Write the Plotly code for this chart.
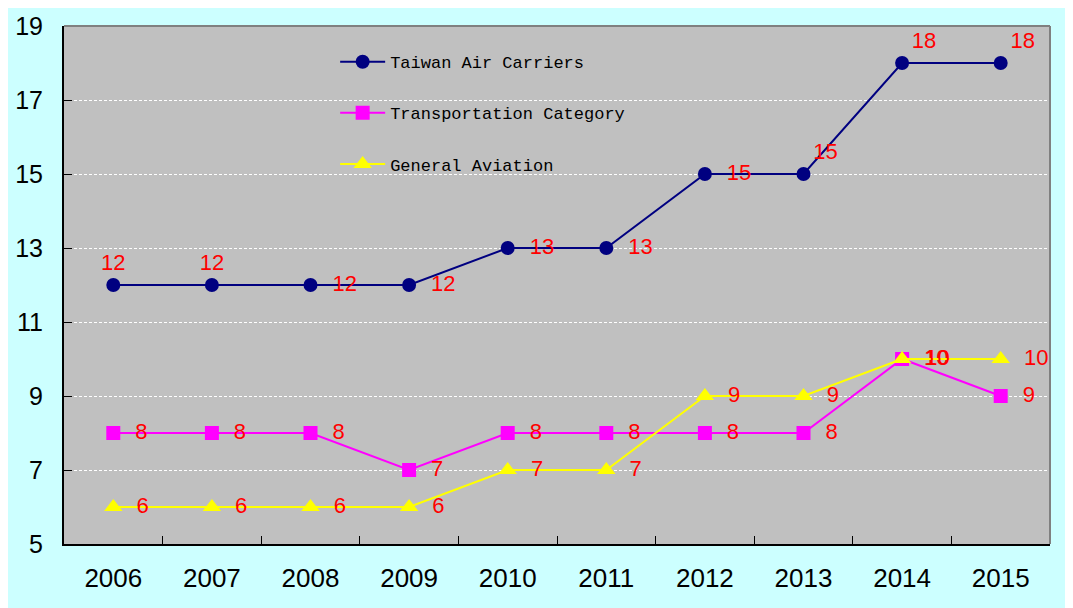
import plotly.graph_objects as go

years = ["2006", "2007", "2008", "2009", "2010", "2011", "2012", "2013", "2014", "2015"]
taiwan_air_carriers = [12, 12, 12, 12, 13, 13, 15, 15, 18, 18]
transportation_category = [8, 8, 8, 7, 8, 8, 8, 8, 10, 9]
general_aviation = [6, 6, 6, 6, 7, 7, 9, 9, 10, 10]

tac_pos = ["top center", "top center", "middle right", "middle right", "middle right",
           "middle right", "middle right", "top right", "top right", "top right"]


def label(v, pos):
    return ("  " + str(v)) if pos == "middle right" else str(v)


label_font = dict(family="Liberation Sans, Arial", size=22, color="#FF0000")

fig = go.Figure()
fig.add_trace(go.Scatter(
    x=years, y=taiwan_air_carriers, name="Taiwan Air Carriers", legendgroup="a",
    mode="lines+markers+text",
    text=[label(v, p) for v, p in zip(taiwan_air_carriers, tac_pos)],
    textposition=tac_pos, textfont=label_font, cliponaxis=False,
    line=dict(color="#000080", width=2),
    marker=dict(symbol="circle", size=14, color="#000080"),
))
fig.add_trace(go.Scatter(
    x=years, y=transportation_category, name="Transportation Category", legendgroup="b",
    mode="lines+markers+text",
    text=[label(v, "middle right") for v in transportation_category],
    textposition="middle right", textfont=label_font, cliponaxis=False,
    line=dict(color="#FF00FF", width=2),
    marker=dict(symbol="square", size=14, color="#FF00FF"),
))
fig.add_trace(go.Scatter(
    x=years, y=general_aviation, name="General Aviation", legendgroup="c",
    mode="lines+markers+text",
    text=[label(v, "middle right") for v in general_aviation],
    textposition="middle right", textfont=label_font, cliponaxis=False,
    line=dict(color="#FFFF00", width=2),
    marker=dict(symbol="triangle-up", size=16, color="#FFFF00"),
))

fig.update_layout(
    width=1073, height=608,
    margin=dict(l=56, r=31, t=18, b=72),
    paper_bgcolor="#CCFFFF",
    plot_bgcolor="#C0C0C0",
    font=dict(family="Liberation Sans, Arial", size=25, color="#000000"),
    legend=dict(
        x=0.275, y=0.965, xanchor="left", yanchor="top",
        bgcolor="rgba(0,0,0,0)",
        font=dict(family="Liberation Mono, monospace", size=17, color="#000000"),
        tracegroupgap=26, traceorder="grouped", itemwidth=45,
    ),
    xaxis=dict(
        type="category", range=[-0.5, 9.5], automargin=False,
        showline=True, linecolor="#000000", linewidth=2,
        ticks="inside", tickson="boundaries", ticklen=8, tickcolor="#000000",
        showgrid=False, ticklabelstandoff=10, tickfont=dict(size=26),
    ),
    yaxis=dict(
        range=[5, 19], dtick=2, tick0=5, automargin=False,
        showline=True, linecolor="#000000", linewidth=2,
        ticks="inside", ticklen=8, tickcolor="#000000",
        showgrid=True, gridcolor="#FFFFFF", gridwidth=1, griddash="3px,2px",
        zeroline=False, ticklabelstandoff=14, tickfont=dict(size=25),
    ),
    shapes=[
        dict(type="line", xref="paper", yref="paper", x0=0, x1=1, y0=1, y1=1,
             line=dict(color="#808080", width=2)),
        dict(type="line", xref="paper", yref="paper", x0=1, x1=1, y0=0, y1=1,
             line=dict(color="#808080", width=2)),
    ],
)

fig.write_html("out.html")
